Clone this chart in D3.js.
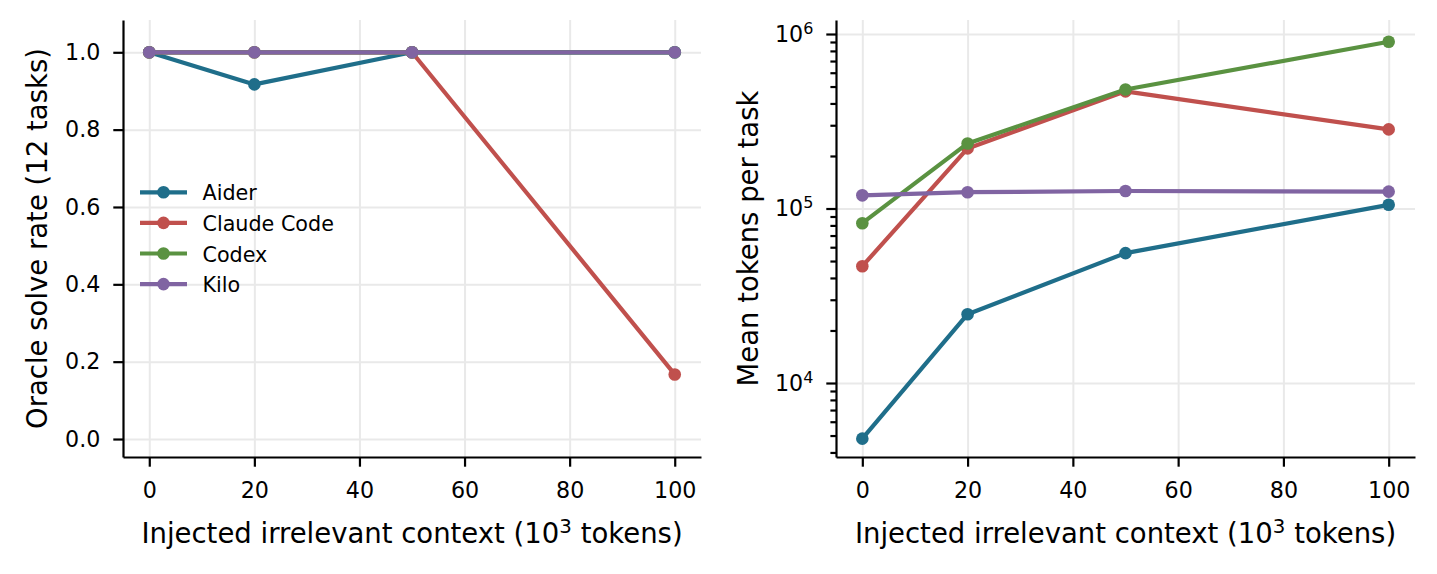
<!DOCTYPE html>
<html>
<head>
<meta charset="utf-8">
<script src="https://cdn.jsdelivr.net/npm/d3@7"></script>
<style>
    body { margin: 0; background: #fff; }
    svg { font-family: "DejaVu Sans", sans-serif; }
</style>
</head>
<body>
<svg id="chart" width="1437" height="574"></svg>
<script>
/* * * * * * * * * * * * * * * * *
*   CONTEXT INJECTION PANELS     *
* * * * * * * * * * * * * * * * */

// Injected context (10^3 tokens)
const contextK = [0, 20, 50, 100];
const agents = ["Aider", "Claude Code", "Codex", "Kilo"];
const agentColors = ["#1f6e8a", "#c0504d", "#5a9241", "#8064a2"];

// Oracle solve rate (12 tasks)
const solveAider = [1.0, 0.917, 1.0, 1.0];
const solveClaude = [1.0, 1.0, 1.0, 0.167];
const solveCodex = [1.0, 1.0, 1.0, 1.0];
const solveKilo = [1.0, 1.0, 1.0, 1.0];

// Mean tokens per task
const tokensAider = [4800, 24800, 55500, 105000];
const tokensClaude = [46700, 221000, 469000, 284000];
const tokensCodex = [82400, 236000, 481000, 903000];
const tokensKilo = [119000, 124000, 126000, 125000];

const xTicks = [0, 20, 40, 60, 80, 100];
const solveTicks = [0.0, 0.2, 0.4, 0.6, 0.8, 1.0];
const tokenTicks = [1e4, 1e5, 1e6];

class LinePanel {
    constructor(svg, opts) {
        this.svg = svg;
        this.opts = opts;
        this.initVis();
    }

    initVis() {
        const vis = this;
        const o = vis.opts;

        vis.width = o.right - o.left;
        vis.height = o.bottom - o.top;

        vis.g = vis.svg.append("g")
            .attr("transform", `translate(${o.left},${o.top})`);

        // Scales
        vis.x = d3.scaleLinear().domain([-5, 105]).range([0, vis.width]);
        vis.y = (o.log ? d3.scaleLog() : d3.scaleLinear())
            .domain(o.yDomain)
            .range([vis.height, 0]);

        // Grid
        vis.g.append("g")
            .attr("class", "grid")
            .attr("transform", `translate(0,${vis.height})`)
            .call(d3.axisBottom(vis.x).tickValues(xTicks).tickSize(-vis.height).tickFormat(""));
        vis.g.append("g")
            .attr("class", "grid")
            .call(d3.axisLeft(vis.y).tickValues(o.yTicks).tickSize(-vis.width).tickFormat(""));
        vis.g.selectAll(".grid line").attr("stroke", "#e9e9e9").attr("stroke-width", 2);
        vis.g.selectAll(".grid .domain").remove();

        // Lines + markers
        const line = d3.line()
            .x((d, i) => vis.x(contextK[i]))
            .y(d => vis.y(d));

        o.series.forEach((vals, k) => {
            const s = vis.g.append("g").attr("class", "series");
            s.append("path")
                .datum(vals)
                .attr("d", line)
                .attr("fill", "none")
                .attr("stroke", agentColors[k])
                .attr("stroke-width", 4.2)
                .attr("stroke-linejoin", "round");
            s.selectAll("circle")
                .data(vals)
                .enter()
                .append("circle")
                .attr("cx", (d, i) => vis.x(contextK[i]))
                .attr("cy", d => vis.y(d))
                .attr("r", 6.3)
                .attr("fill", agentColors[k]);
        });

        // Axes
        vis.xAxis = vis.g.append("g")
            .attr("class", "axis")
            .attr("transform", `translate(0,${vis.height})`)
            .call(d3.axisBottom(vis.x).tickValues(xTicks).tickSize(9.7).tickSizeOuter(0).tickPadding(16));

        vis.yAxis = vis.g.append("g")
            .attr("class", "axis")
            .call(d3.axisLeft(vis.y).tickValues(o.yTicks).tickSize(9.7).tickSizeOuter(0).tickPadding(13)
                .tickFormat(o.log ? "" : d3.format(".1f")));

        if (o.log) {
            // 10^n labels with superscript
            vis.yAxis.selectAll(".tick text")
                .each(function(d) {
                    const t = d3.select(this);
                    t.append("tspan").text("10");
                    t.append("tspan")
                        .attr("dy", "-0.5em")
                        .attr("font-size", "0.72em")
                        .text(Math.round(Math.log10(d)));
                });

            // minor ticks
            const minor = [];
            [1e3, 1e4, 1e5].forEach(dec => {
                for (let m = 2; m <= 9; m++) {
                    const v = m * dec;
                    if (v >= o.yDomain[0] && v <= o.yDomain[1]) minor.push(v);
                }
            });
            vis.g.append("g")
                .attr("class", "axis minor")
                .call(d3.axisLeft(vis.y).tickValues(minor).tickSize(5.6).tickSizeOuter(0).tickFormat(""))
                .select(".domain").remove();
        }

        vis.g.selectAll(".axis .domain").attr("stroke", "#000").attr("stroke-width", 2.2);
        vis.g.selectAll(".axis line").attr("stroke", "#000").attr("stroke-width", 2.2);
        vis.g.selectAll(".axis text")
            .attr("fill", "#000")
            .attr("font-size", "22.2px")
            .attr("font-family", "DejaVu Sans");

        // Axis labels
        const xl = vis.svg.append("text")
            .attr("x", o.left + vis.width / 2)
            .attr("y", 543)
            .attr("text-anchor", "middle")
            .attr("font-size", "27.5px");
        xl.append("tspan").text("Injected irrelevant context (10");
        xl.append("tspan").attr("dy", "-0.5em").attr("font-size", "0.72em").text("3");
        xl.append("tspan").attr("dy", "0.36em").text(" tokens)");

        vis.svg.append("text")
            .attr("transform", `translate(${o.yLabelX},${o.top + vis.height / 2}) rotate(-90)`)
            .attr("text-anchor", "middle")
            .attr("font-size", "27.5px")
            .text(o.yLabel);
    }

    addLegend(x, y) {
        const vis = this;
        const legend = vis.svg.append("g")
            .attr("class", "legend")
            .attr("transform", `translate(${x},${y})`);

        const rows = legend.selectAll(".legend-row")
            .data(agents)
            .enter()
            .append("g")
            .attr("class", "legend-row")
            .attr("transform", (d, i) => `translate(0,${i * 30.6})`);

        rows.append("line")
            .attr("x1", 0).attr("x2", 47)
            .attr("stroke", (d, i) => agentColors[i])
            .attr("stroke-width", 4.2);
        rows.append("circle")
            .attr("cx", 23.5)
            .attr("r", 6.3)
            .attr("fill", (d, i) => agentColors[i]);
        rows.append("text")
            .attr("x", 62.5)
            .attr("y", 8)
            .attr("font-size", "20.7px")
            .text(d => d);
    }
}

const svg = d3.select("#chart");

const leftPanel = new LinePanel(svg, {
    left: 123, right: 701, top: 20, bottom: 457,
    yDomain: [-0.0465, 1.0835],
    yTicks: solveTicks,
    log: false,
    series: [solveAider, solveClaude, solveCodex, solveKilo],
    yLabel: "Oracle solve rate (12 tasks)",
    yLabelX: 46.5
});
leftPanel.addLegend(140, 192.3);

const rightPanel = new LinePanel(svg, {
    left: 836, right: 1415, top: 20, bottom: 457,
    yDomain: [3767, 1.203e6],
    yTicks: tokenTicks,
    log: true,
    series: [tokensAider, tokensClaude, tokensCodex, tokensKilo],
    yLabel: "Mean tokens per task",
    yLabelX: 758
});
</script>
</body>
</html>
